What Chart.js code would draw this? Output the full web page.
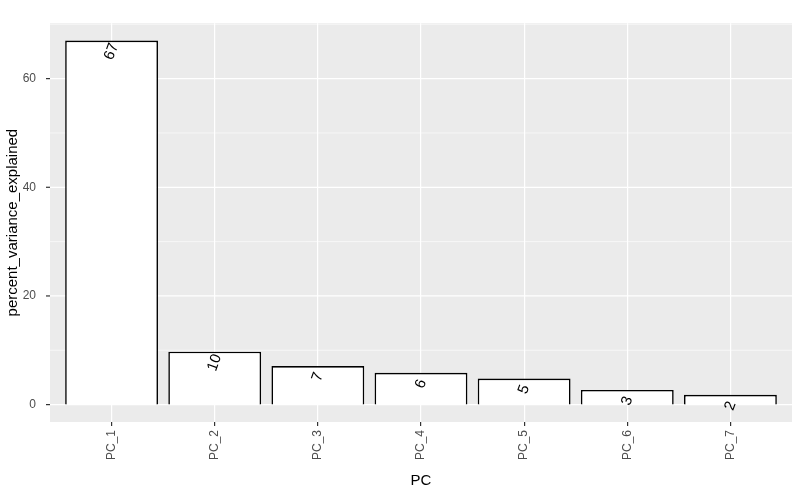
<!DOCTYPE html>
<html>
<head>
<meta charset="utf-8">
<script src="https://cdn.jsdelivr.net/npm/chart.js@4"></script>
<style>
  html, body { margin: 0; padding: 0; background: #fff; }
  #wrap { width: 800px; height: 494px; }
</style>
</head>
<body>
<div id="wrap"><canvas id="grafik"></canvas></div>
<script>
// data
const categories = ["PC_1", "PC_2", "PC_3", "PC_4", "PC_5", "PC_6", "PC_7"];
const varianceValues = [67, 9.75, 7.1, 5.85, 4.8, 2.7, 1.8];
const yTickLabels = [0, 20, 40, 60];
const yMinorTicks = [10, 30, 50, 70];

// ggplot-like panel: grey background, wider than the category area, with horizontal grid
const panelBg = {
  id: "panelBg",
  beforeDraw(chart) {
    const { ctx, chartArea: a } = chart;
    const y = chart.scales.y;
    const left = a.left - 10, right = a.right + 10;
    ctx.save();
    ctx.fillStyle = "#EBEBEB";
    ctx.fillRect(left, a.top, right - left, a.bottom - a.top);
    ctx.strokeStyle = "#FFFFFF";
    yMinorTicks.forEach((v) => {
      const py = y.getPixelForValue(v);
      if (py < a.top) return;
      ctx.lineWidth = 0.6;
      ctx.beginPath(); ctx.moveTo(left, py); ctx.lineTo(right, py); ctx.stroke();
    });
    yTickLabels.forEach((v) => {
      const py = y.getPixelForValue(v);
      ctx.lineWidth = 1.2;
      ctx.beginPath(); ctx.moveTo(left, py); ctx.lineTo(right, py); ctx.stroke();
      ctx.strokeStyle = "#333";
      ctx.beginPath(); ctx.moveTo(left - 4, py); ctx.lineTo(left, py); ctx.stroke();
      ctx.strokeStyle = "#FFFFFF";
    });
    ctx.restore();
  },
};

// rounded value labels, rotated, at top of each bar
const barLabels = {
  id: "barLabels",
  afterDatasetsDraw(chart) {
    const { ctx } = chart;
    const meta = chart.getDatasetMeta(0);
    ctx.save();
    ctx.font = "15px 'Liberation Sans', Arial, sans-serif";
    ctx.fillStyle = "#000";
    ctx.textAlign = "center";
    ctx.textBaseline = "middle";
    meta.data.forEach((bar, i) => {
      ctx.save();
      ctx.translate(bar.x, bar.y + 11);
      ctx.rotate((-70 * Math.PI) / 180);
      ctx.fillText(String(Math.round(varianceValues[i])), 0, 0);
      ctx.restore();
    });
    ctx.restore();
  },
};

new Chart(document.getElementById("grafik").getContext("2d"), {
  type: "bar",
  data: {
    labels: categories,
    datasets: [{
      data: varianceValues,
      backgroundColor: "#FFFFFF",
      borderColor: "#000000",
      borderWidth: 1.6,
      categoryPercentage: 0.9,
      barPercentage: 1.0,
    }],
  },
  options: {
    responsive: true,
    maintainAspectRatio: false,
    animation: false,
    layout: { padding: { top: 8, right: 18, left: 0, bottom: 0 } },
    plugins: { legend: { display: false }, tooltip: { enabled: false } },
    scales: {
      x: {
        grid: { offset: false, color: "#FFFFFF", lineWidth: 1.2, drawTicks: true, tickLength: 4, tickColor: "#333" },
        border: { display: false },
        ticks: {
          color: "#4D4D4D",
          font: { size: 12, family: "'Liberation Sans', Arial, sans-serif" },
          maxRotation: 90, minRotation: 90, padding: 4,
        },
        title: { display: true, text: "PC", color: "#000", font: { size: 15, family: "'Liberation Sans', Arial, sans-serif" }, padding: { top: 2 } },
        afterFit(s) { s.height = 72; },
      },
      y: {
        min: -3.2,
        max: 70.2,
        afterBuildTicks(s) {
          s.ticks = yTickLabels.map((v) => ({ value: v }));
        },
        grid: { display: false },
        border: { display: false },
        ticks: {
          color: "#4D4D4D",
          font: { size: 12, family: "'Liberation Sans', Arial, sans-serif" },
          padding: 16,
        },
        title: { display: true, text: "percent_variance_explained", color: "#000", font: { size: 15, family: "'Liberation Sans', Arial, sans-serif" }, padding: { bottom: 2 } },
        afterFit(s) { s.width = 60; },
      },
    },
  },
  plugins: [panelBg, barLabels],
});
</script>
</body>
</html>
